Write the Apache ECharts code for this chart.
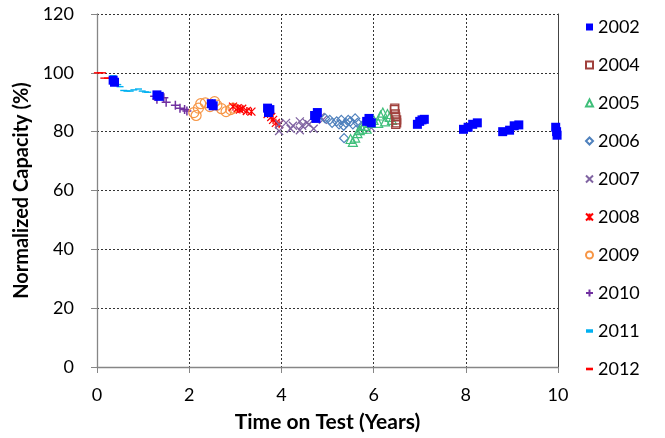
<!DOCTYPE html>
<html><head><meta charset="utf-8">
<script src="https://cdn.jsdelivr.net/npm/echarts@6/dist/echarts.min.js"></script>
<style>html,body{margin:0;padding:0;background:#fff}#c{width:665px;height:438px}</style>
</head><body><div id="c"></div>
<script>
const xTicks = [0, 2, 4, 6, 8, 10];
const yTicks = [0, 20, 40, 60, 80, 100, 120];
const seriesNames = ['2002','2004','2005','2006','2007','2008','2009','2010','2011','2012'];

const d2002 = [[0.35,97.5],[0.38,96.8],[1.3,92.5],[1.35,92],[2.48,89.5],[2.52,88.8],[3.7,88],[3.72,86.5],[3.75,87.5],[4.72,85.5],[4.78,86.5],[4.75,84.5],[5.85,83.5],[5.9,84.5],[5.95,83],[6.95,82.5],[7.0,83.5],[7.05,84],[7.1,84.2],[7.95,80.8],[8.05,81.5],[8.15,82.5],[8.25,83],[8.8,80],[8.95,80.5],[9.05,82],[9.15,82.3],[9.95,81.5],[9.97,80],[9.98,78.8]];
const d2004 = [[6.46,88],[6.45,87.5],[6.47,86],[6.48,85],[6.5,84],[6.5,83],[6.48,82.5]];
const d2005 = [[5.5,77.5],[5.55,76.5],[5.6,78],[5.65,79.5],[5.7,80.5],[5.75,81],[5.85,81],[5.8,82],[5.9,83],[6.0,84],[6.1,83],[6.15,85.5],[6.2,86.5],[6.3,86],[6.35,85],[6.4,84],[6.25,83.5]];
const d2006 = [[4.95,84.5],[5.05,84],[5.1,83],[5.2,83.5],[5.25,82.5],[5.3,84],[5.35,82],[5.4,83],[5.45,84],[5.5,83.5],[5.55,82.5],[5.6,84.5],[5.65,83],[5.75,82],[5.36,77.8]];
const d2007 = [[3.95,80.2],[3.95,82.5],[4.1,83],[4.2,81],[4.25,82],[4.4,83.5],[4.45,82],[4.4,80.5],[4.55,83],[4.6,82.5],[4.7,81],[4.75,84.5],[4.85,85],[4.9,84],[5.95,81.3]];
const d2008 = [[2.95,88.5],[3.05,88],[3.1,87.5],[3.15,87.8],[3.25,87],[3.35,86.8],[3.7,86],[3.78,85],[3.82,84],[3.88,83],[3.95,82.5]];
const d2009 = [[2.1,86.5],[2.15,85.5],[2.2,88],[2.25,89.5],[2.35,89.8],[2.45,88.5],[2.55,90.2],[2.6,89],[2.7,87.8],[2.8,86.8],[2.9,87.5],[2.95,88]];
const d2010 = [[1.25,92],[1.3,91],[1.45,91.5],[1.5,90],[1.7,89],[1.8,88],[1.9,87.5],[1.95,87],[2.5,89.5]];
const d2011 = [[0.35,99],[0.4,97.2],[0.45,96],[0.5,95.3],[0.58,94],[0.65,93.8],[0.72,93.8],[0.8,94.2],[0.9,94.5],[0.98,93.8],[1.05,93.5],[1.1,93.4]];
const d2012 = [[0.03,100],[0.1,100],[0.17,98.2],[0.25,98.2]];

const FONT = 'Lato, "Open Sans", sans-serif';
const P_X = 'path://M0,0L10,10M10,0L0,10';
const P_PLUS = 'path://M5,0L5,10M0,5L10,5';
const P_AST = 'path://M0,0L10,10M10,0L0,10M5,0L5,10';
const P_DASH = 'path://M0,0L10,0L10,4L0,4Z';

function filled(name, data, symbol, size, color, keep){
  return {name, type:'scatter', data, symbol, symbolSize:size, symbolKeepAspect:!!keep,
    itemStyle:{color, opacity:1}, emphasis:{disabled:true}};
}
function open(name, data, symbol, size, color, bw){
  return {name, type:'scatter', data, symbol, symbolSize:size,
    itemStyle:{color:'rgba(255,255,255,0)', borderColor:color, borderWidth:bw||1.2, opacity:1}, emphasis:{disabled:true}};
}

const list = [
  filled('2002', d2002, 'rect', 9, '#0000FF'),
  open('2004', d2004, 'rect', 8, '#A0403C', 1.3),
  open('2005', d2005, 'triangle', 9, '#3FBF7A', 1.2),
  open('2006', d2006, 'diamond', 9, '#4F81BD', 1.2),
  open('2007', d2007, P_X, 8, '#8064A2', 1.3),
  open('2008', d2008, P_AST, 8, '#FF0000', 1.3),
  open('2009', d2009, 'circle', 10, '#F79646', 1.2),
  open('2010', d2010, P_PLUS, 9, '#7030A0', 1.5),
  filled('2011', d2011, P_DASH, [7,3.5], '#00B0F0', true),
  filled('2012', d2012, P_DASH, [9,3.5], '#FF0000', true)
];
list.forEach((s,i)=>{ s.z = 20 - i; });

const legendIcons = {'2011':'path://M0,0L6,0L6,3L0,3Z', '2012':'path://M0,0L8,0L8,3L0,3Z'};

const chart = echarts.init(document.getElementById('c'), null, {renderer:'canvas'});
chart.setOption({
  animation:false,
  backgroundColor:'#fff',
  textStyle:{fontFamily:FONT},
  grid:{left:97, right:107, top:14, bottom:69, containLabel:false},
  legend:{
    orient:'vertical', left:580, top:12, itemWidth:7, itemHeight:7, itemGap:18,
    textStyle:{fontFamily:FONT, fontSize:18, color:'#000', lineHeight:20},
    data: seriesNames.map(n=> legendIcons[n] ? {name:n, icon:legendIcons[n]} : {name:n}),
    selectedMode:false
  },
  xAxis:{
    type:'value', min:0, max:10, interval:2,
    name:'Time on Test (Years)', nameLocation:'middle', nameGap:45,
    nameTextStyle:{fontFamily:FONT, fontSize:21, fontWeight:'bold', color:'#000'},
    axisLine:{show:true, onZero:false, lineStyle:{color:'#868686', width:1.3}},
    axisTick:{show:true, inside:false, length:6, lineStyle:{color:'#868686'}},
    axisLabel:{fontFamily:FONT, fontSize:18, color:'#000', margin:19},
    splitLine:{show:true, lineStyle:{color:'#333', type:[2,2], width:1}}
  },
  yAxis:[{
    type:'value', min:0, max:120, interval:20,
    name:'Normalized Capacity (%)', nameLocation:'middle', nameGap:60,
    nameTextStyle:{fontFamily:FONT, fontSize:20, fontWeight:'bold', color:'#000'},
    axisLine:{show:true, lineStyle:{color:'#868686', width:1.3}},
    axisTick:{show:true, inside:false, length:6, lineStyle:{color:'#868686'}},
    axisLabel:{fontFamily:FONT, fontSize:18, color:'#000', margin:23},
    splitLine:{show:true, lineStyle:{color:'#333', type:[2,2], width:1}}
  },{
    type:'value', min:0, max:120, interval:20, position:'right',
    axisLine:{show:true, lineStyle:{color:'#444', width:1}},
    axisTick:{show:false}, axisLabel:{show:false}, splitLine:{show:false}
  }],
  series: list
});
</script></body></html>
